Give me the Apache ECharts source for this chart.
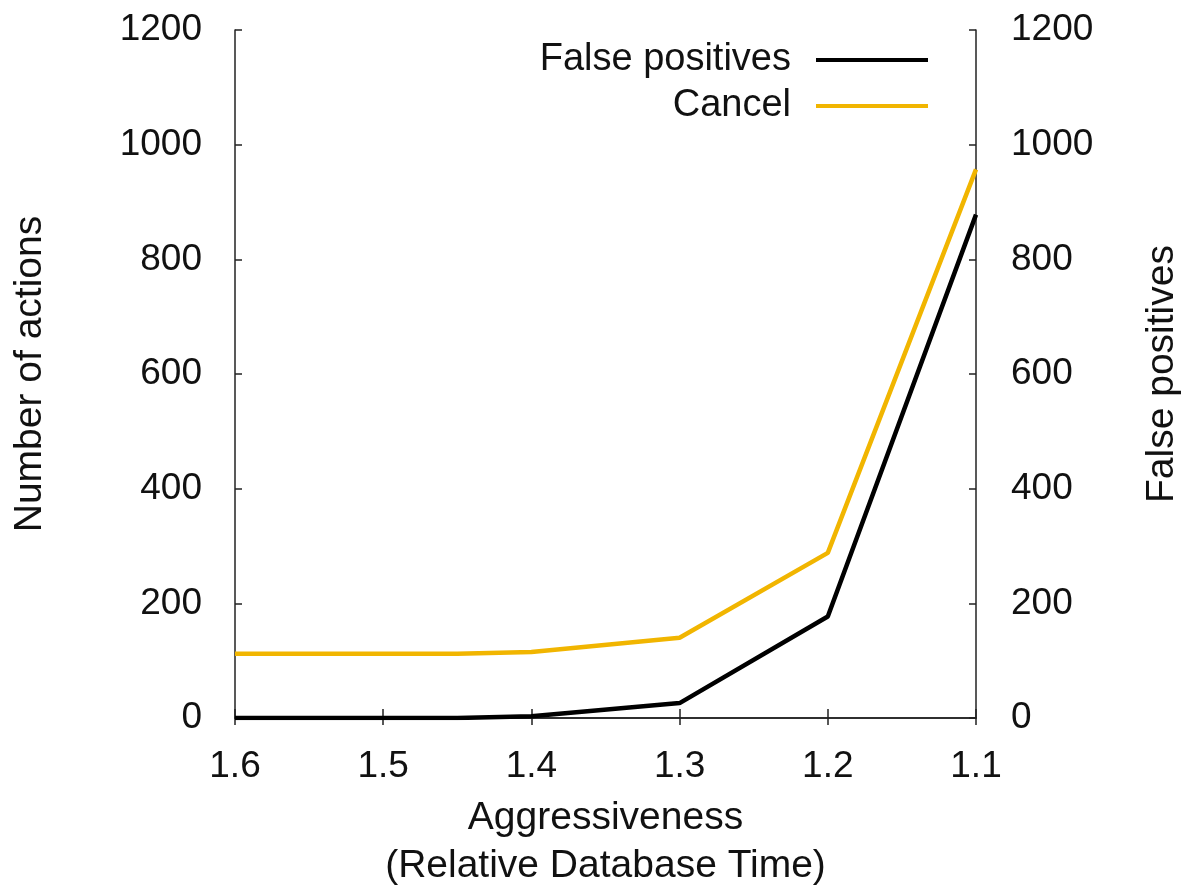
<!DOCTYPE html>
<html>
<head>
<meta charset="utf-8">
<script src="https://cdn.jsdelivr.net/npm/echarts@6/dist/echarts.min.js"></script>
<style>
html,body{margin:0;padding:0;background:#fff;}
#chart{width:1184px;height:890px;}
</style>
</head>
<body>
<div id="chart"></div>
<script>
// Data
const xValues = [1.6, 1.5, 1.45, 1.4, 1.3, 1.2, 1.1];
const falsePositives = [0, 0, 0, 3, 26, 177, 878];
const cancel = [112, 112, 112, 115, 140, 288, 957];
const seriesNames = ['False positives', 'Cancel'];
const xTitle = 'Aggressiveness\n(Relative Database Time)';
const yLeftTitle = 'Number of actions';
const yRightTitle = 'False positives';

const FONT = 'Liberation Sans, Arial, Helvetica, sans-serif';
const FS = 37;
const TFS = 39;
const axisLineStyle = { color: '#222', width: 1.5 };

const chart = echarts.init(document.getElementById('chart'));
const pair = (ys) => xValues.map((x, i) => [x, ys[i]]);

const option = {
  backgroundColor: '#fff',
  animation: false,
  textStyle: { fontFamily: FONT, color: '#111' },
  grid: { left: 235, right: 208, top: 30, bottom: 172, containLabel: false, outerBoundsMode: 'none' },
  legend: {
    orient: 'vertical',
    right: 251,
    top: 36,
    align: 'right',
    itemWidth: 112,
    itemHeight: 4,
    itemGap: 8,
    icon: 'rect',
    textStyle: { fontFamily: FONT, fontSize: 38, color: '#111', lineHeight: 36, padding: [0, 20, 0, 0] },
    data: seriesNames
  },
  xAxis: [{
    type: 'value',
    inverse: true,
    min: 1.1, max: 1.6, interval: 0.1,
    name: xTitle,
    nameLocation: 'middle',
    nameGap: 76,
    nameTextStyle: { fontFamily: FONT, fontSize: TFS, color: '#111', lineHeight: 48 },
    axisLine: { lineStyle: axisLineStyle },
    axisTick: { inside: true, length: 9, lineStyle: axisLineStyle },
    axisLabel: { margin: 30, fontSize: FS, color: '#111', fontFamily: FONT, formatter: v => v.toFixed(1) },
    splitLine: { show: false }
  }, {
    type: 'value',
    position: 'top',
    inverse: true,
    min: 1.1, max: 1.6, interval: 0.1,
    axisLine: { show: true, lineStyle: axisLineStyle },
    axisTick: { inside: true, length: 7, lineStyle: axisLineStyle },
    axisLabel: { show: false },
    splitLine: { show: false }
  }],
  yAxis: [{
    type: 'value',
    min: 0, max: 1200, interval: 200,
    position: 'left',
    name: yLeftTitle,
    nameLocation: 'middle',
    nameRotate: 90,
    nameGap: 185,
    nameTextStyle: { fontFamily: FONT, fontSize: TFS, color: '#111' },
    axisLine: { show: true, lineStyle: axisLineStyle },
    axisTick: { show: true, inside: true, length: 7, lineStyle: axisLineStyle },
    axisLabel: { margin: 33, fontSize: FS, color: '#111', fontFamily: FONT, formatter: v => String(v) },
    splitLine: { show: false }
  }, {
    type: 'value',
    min: 0, max: 1200, interval: 200,
    position: 'right',
    name: yRightTitle,
    nameLocation: 'middle',
    nameRotate: 90,
    nameGap: 167,
    nameTextStyle: { fontFamily: FONT, fontSize: TFS, color: '#111' },
    axisLine: { show: true, lineStyle: axisLineStyle },
    axisTick: { show: true, inside: true, length: 7, lineStyle: axisLineStyle },
    axisLabel: { margin: 35, fontSize: FS, color: '#111', fontFamily: FONT, formatter: v => String(v) },
    splitLine: { show: false }
  }],
  series: [{
    name: seriesNames[0],
    type: 'line',
    xAxisIndex: 0,
    yAxisIndex: 1,
    data: pair(falsePositives),
    showSymbol: false,
    symbol: 'none',
    lineStyle: { color: '#000', width: 4.5 },
    itemStyle: { color: '#000' },
    z: 3
  }, {
    name: seriesNames[1],
    type: 'line',
    xAxisIndex: 0,
    yAxisIndex: 0,
    data: pair(cancel),
    showSymbol: false,
    symbol: 'none',
    lineStyle: { color: '#f1b500', width: 4.5 },
    itemStyle: { color: '#f1b500' },
    z: 2
  }]
};
chart.setOption(option);
</script>
</body>
</html>
